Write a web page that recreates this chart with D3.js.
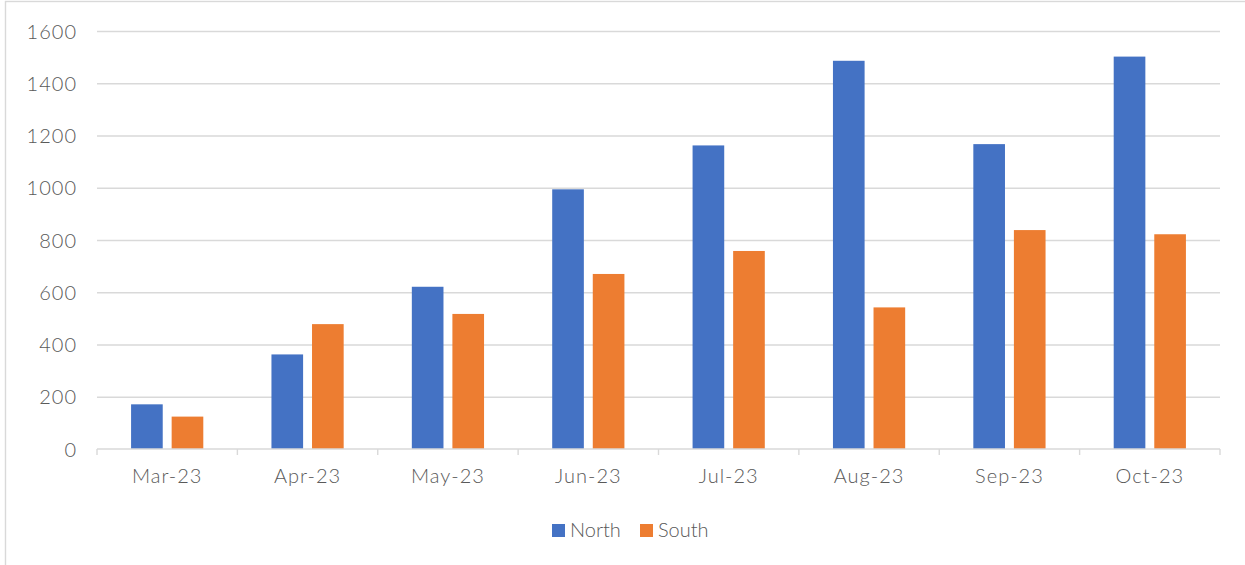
<html>
  <head>
    <title>North vs South</title>
    <meta charset="utf-8" />
    <script src="https://cdnjs.cloudflare.com/ajax/libs/d3/7.6.1/d3.min.js"></script>
    <style>
      body { margin: 0; background: #fff; }
      svg { display: block; }
      .grid line { stroke: #d9d9d9; stroke-width: 1.4; }
      .grid path { display: none; }
      .axis text, .legend text {
        fill: #595959;
        font-family: Lato, "Open Sans", sans-serif;
        font-weight: 300;
        font-size: 20px;
      }
      .axis text { letter-spacing: 1px; }
      .axis--y path, .axis--y line { display: none; }
    </style>
  </head>
  <body>
    <svg width="1245" height="565"></svg>
  </body>

  <script>
    const months = ["Mar-23", "Apr-23", "May-23", "Jun-23", "Jul-23", "Aug-23", "Sep-23", "Oct-23"];
    const north = [171, 362, 621, 994, 1162, 1486, 1167, 1502];
    const south = [124, 478, 517, 670, 758, 542, 838, 822];
    const seriesNames = ["North", "South"];
    const colors = ["#4472C4", "#ED7D31"];
    const yTicks = [0, 200, 400, 600, 800, 1000, 1200, 1400, 1600];

    let svg = d3.select("svg"),
      margin = { top: 31, right: 25, bottom: 116, left: 97 },
      width = +svg.attr("width") - margin.left - margin.right,
      height = +svg.attr("height") - margin.top - margin.bottom;

    // chart frame (cropped on right and bottom)
    svg.append("rect")
      .attr("x", 5.5).attr("y", 1.5)
      .attr("width", 1300).attr("height", 700)
      .attr("fill", "none")
      .attr("stroke", "#d9d9d9")
      .attr("stroke-width", 1.4);

    let data = months.map((m, i) => ({ month: m, values: [north[i], south[i]] }));

    let x = d3.scaleBand().domain(months).range([0, width]).paddingInner(0).paddingOuter(0);
    let x1 = d3.scaleBand().domain(seriesNames).range([0, x.bandwidth()]).paddingInner(0.22).paddingOuter(0.84);
    let y = d3.scaleLinear().domain([0, 1600]).range([height, 0]);

    let g = svg.append("g").attr("transform", `translate(${margin.left},${margin.top})`);

    g.append("g")
      .attr("class", "grid")
      .call(d3.axisLeft(y).tickValues(yTicks.slice(1)).tickSize(-width).tickFormat(""));

    g.append("g")
      .attr("class", "axis axis--y")
      .call(d3.axisLeft(y).tickValues(yTicks).tickSize(0).tickPadding(20).tickFormat(d3.format("d")))
      .selectAll("text")
      .attr("dy", "0.35em");

    let groups = g.selectAll(".month")
      .data(data)
      .enter()
      .append("g")
      .attr("transform", (d) => `translate(${x(d.month)},0)`);

    groups.selectAll("rect")
      .data((d) => d.values.map((v, i) => ({ key: seriesNames[i], value: v, color: colors[i] })))
      .enter()
      .append("rect")
      .attr("x", (d) => x1(d.key))
      .attr("y", (d) => y(d.value))
      .attr("width", x1.bandwidth())
      .attr("height", (d) => height - y(d.value))
      .attr("fill", (d) => d.color);

    // x axis with ticks at category boundaries
    let xAxis = g.append("g")
      .attr("class", "axis axis--x")
      .attr("transform", `translate(0,${height})`)
      .call(d3.axisBottom(x).tickSize(0).tickPadding(20));
    xAxis.select(".domain").remove();
    xAxis.append("line")
      .attr("x1", 0).attr("x2", width)
      .attr("stroke", "#d9d9d9").attr("stroke-width", 1.4);
    xAxis.selectAll(".bound")
      .data(d3.range(months.length + 1))
      .enter()
      .append("line")
      .attr("x1", (i) => i * x.step()).attr("x2", (i) => i * x.step())
      .attr("y1", 0).attr("y2", 6)
      .attr("stroke", "#d9d9d9").attr("stroke-width", 1.4);

    // legend
    let legend = svg.append("g").attr("class", "legend");
    let lx = [552, 640];
    seriesNames.forEach((name, i) => {
      legend.append("rect")
        .attr("x", lx[i]).attr("y", 524)
        .attr("width", 13).attr("height", 13)
        .attr("fill", colors[i]);
      legend.append("text")
        .attr("x", lx[i] + 18).attr("y", 537)
        .text(name);
    });
  </script>
</html>
